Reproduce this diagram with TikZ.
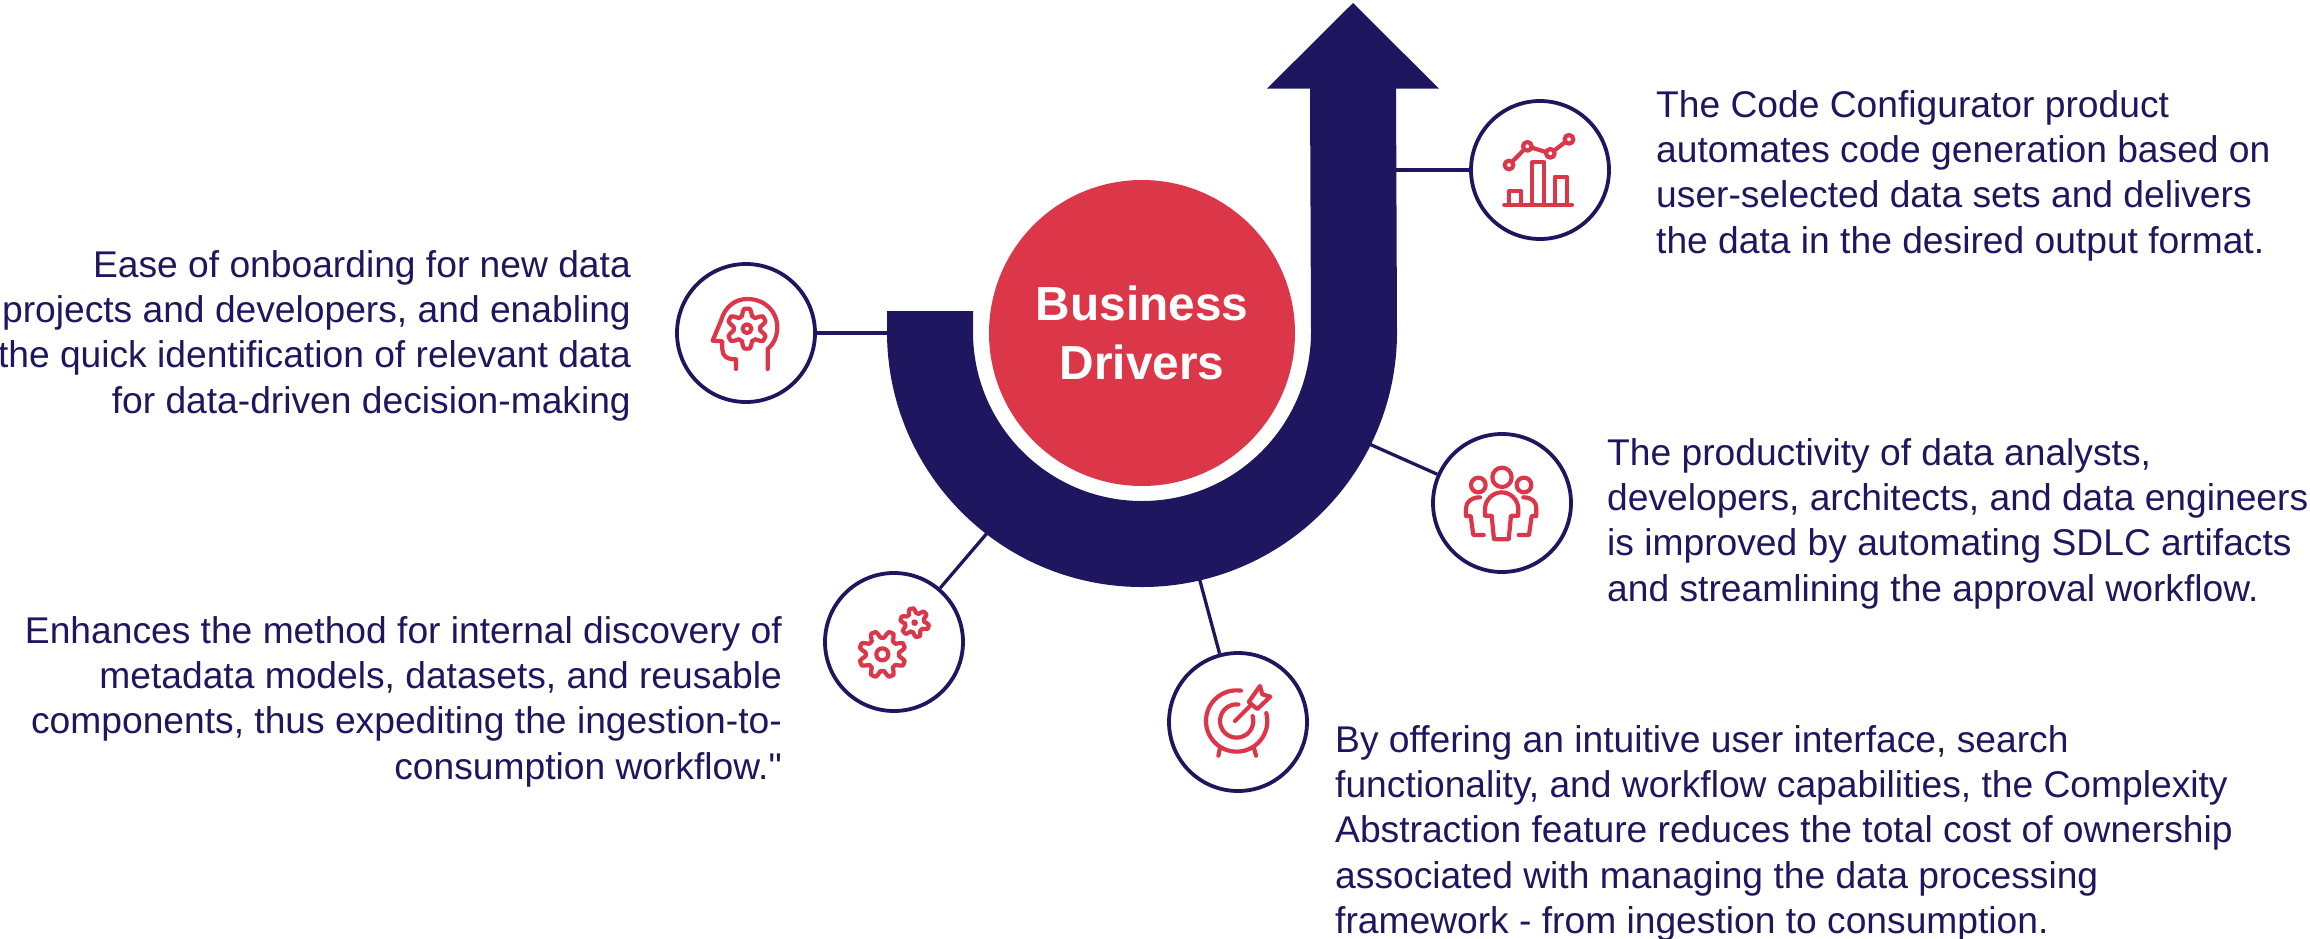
\documentclass[tikz,border=0pt]{standalone}
\usepackage{fontspec}
\setmainfont{Liberation Sans}[Ligatures=TeXOff]
\definecolor{navy}{HTML}{1E1760}
\definecolor{brandred}{HTML}{DC3649}
\newcommand{\gearplot}[6]{% cx cy a b n phase
  plot[domain=0:360,samples=241] ({#1+(#3+#4*max(-1,min(1,1.5*cos(#5*(\x-(#6))))))*cos(\x)},{#2+(#3+#4*max(-1,min(1,1.5*cos(#5*(\x-(#6))))))*sin(\x)}) -- cycle}
\tikzset{
  x=1pt,y=-1pt,
  iconring/.style={circle,draw=navy,fill=white,line width=3.8pt,minimum size=138pt,inner sep=0pt},
  link/.style={draw=navy,line width=3.3pt},
  glyph/.style={draw=brandred,line width=4.2pt,line cap=round,line join=round,fill=none},
  body/.style={text=navy,font=\fontsize{37.2}{45.3}\selectfont,inner sep=0pt},
  lefttext/.style={body,align=left,anchor=north west},
  righttext/.style={body,align=right,anchor=north east},
  glyphbox/.style={x=0.3333pt,y=-0.3333pt},
}
\begin{document}
\begin{tikzpicture}
\useasboundingbox (0,0) rectangle (2310,938);
% icon rings
\node[iconring] (chart) at (1540,170) {};
\node[iconring] (head) at (746,333) {};
\node[iconring] (people) at (1502,503) {};
\node[iconring] (target) at (1238,722) {};
\node[iconring] (gears) at (894,642) {};
% free ends under the band
\coordinate (bandA) at (1380,170);
\coordinate (bandB) at (900,333);
\coordinate (bandC) at (1340,431);
\coordinate (bandD) at (1000,518);
\coordinate (bandE) at (1193,555);
% connectors
\draw[link] (bandA) -- (chart);
\draw[link] (bandB) -- (head);
\draw[link] (bandC) -- (people);
\draw[link] (bandD) -- (gears);
\draw[link] (bandE) -- (target);
% J arrow band
\fill[navy] (887,311) -- (887,332) arc[start angle=180,end angle=0,radius=255]
  -- (1396,88.6) -- (1439,88.6) -- (1353,3) -- (1267,88.6) -- (1310,88.6) -- (1311,332)
  arc[start angle=0,end angle=180,radius=169] -- (973,311) -- cycle;
% centre
\node[circle,fill=brandred,minimum size=306pt,inner sep=0pt,text=white,align=center,
  font=\fontsize{47.8}{59}\selectfont\bfseries] (hub) at (1142,333) {Business\\Drivers};
% chart icon
\begin{scope}[shift={(1440,80)},glyphbox]
\draw[glyph] (193,375) -- (396,375);
\draw[glyph] (207,375) -- (207,332) -- (243,332) -- (243,375);
\draw[glyph] (277,375) -- (277,247) -- (312,247) -- (312,375);
\draw[glyph] (345,375) -- (345,290) -- (380,290) -- (380,375);
\draw[glyph] (207,255) circle[radius=13];
\draw[glyph] (262,199) circle[radius=13];
\draw[glyph] (331,220) circle[radius=13];
\draw[glyph] (387,178) circle[radius=13];
\draw[glyph] (217,245) -- (252,209);
\draw[glyph] (275,203) -- (318,216);
\draw[glyph] (342,212) -- (376,186);
\end{scope}
% head icon
\begin{scope}[shift={(660,250)},glyphbox]
\draw[glyph] (228,357) -- (228,328) .. controls (200,328) and (187,318) .. (187,298) -- (187,274) -- (158,272)
  -- (183,212) .. controls (195,170) and (225,147) .. (262,147)
  .. controls (315,147) and (352,185) .. (352,232) .. controls (352,260) and (340,283) .. (323,297) -- (323,357);
\draw[glyph] \gearplot{261}{236}{50}{10}{6}{90};
\draw[glyph] (261,236) circle[radius=13];
\end{scope}
% people icon
\begin{scope}[shift={(1420,420)},glyphbox]
\draw[glyph] (246,172) circle[radius=29];
\draw[glyph] (175,195) circle[radius=22];
\draw[glyph] (312,195) circle[radius=22];
\draw[glyph] (222,358) -- (215,287) -- (195,287) -- (195,268) .. controls (195,238) and (220,217) .. (245,217)
  .. controls (270,217) and (295,238) .. (295,268) -- (295,287) -- (273,287) -- (266,358) -- cycle;
\draw[glyph] (180,232) .. controls (155,232) and (138,245) .. (138,265) -- (138,288) -- (152,288) -- (160,345) -- (191,345);
\draw[glyph] (310,232) .. controls (335,232) and (349,245) .. (349,265) -- (349,288) -- (335,288) -- (327,345) -- (296,345);
\end{scope}
% target icon
\begin{scope}[shift={(1150,640)},glyphbox]
\draw[glyph] (260,243) ++(-82:92) arc[start angle=-82,end angle=-375,radius=92];
\draw[glyph] (260,243) ++(-84:50) arc[start angle=-84,end angle=-377,radius=50];
\draw[glyph] (255,243) -- (300,198);
\draw[glyph] (296,186) -- (330,138) -- (337,163) -- (361,170) -- (322,207) -- cycle;
\draw[glyph] (210,325) -- (205,347);
\draw[glyph] (312,325) -- (318,347);
\end{scope}
% gears icon
\begin{scope}[shift={(810,560)},glyphbox]
\draw[glyph] \gearplot{217}{283}{60}{10}{8}{22.5};
\draw[glyph] (217,283) circle[radius=18];
\draw[glyph] \gearplot{314}{188}{36}{7}{6}{-103};
\fill[brandred] (314,188) circle[radius=10];
\end{scope}
% texts
\node[lefttext] (t1) at (1656,90) {The Code Configurator product\\automates code generation based on\\user-selected data sets and delivers\\the data in the desired output format.};
\node[righttext] (t2) at (631,250) {Ease of onboarding for new data\\projects and developers, and enabling\\the quick identification of relevant data\\for data-driven decision-making};
\node[lefttext] (t3) at (1607,438) {The productivity of data analysts,\\developers, architects, and data engineers\\is improved by automating SDLC artifacts\\and streamlining the approval workflow.};
\node[righttext] (t4) at (782,616) {Enhances the method for internal discovery of\\metadata models, datasets, and reusable\\components, thus expediting the ingestion-to-\\consumption workflow."};
\node[lefttext] (t5) at (1335,725) {By offering an intuitive user interface, search\\functionality, and workflow capabilities, the Complexity\\Abstraction feature reduces the total cost of ownership\\associated with managing the data processing\\framework - from ingestion to consumption.};
\end{tikzpicture}
\end{document}
